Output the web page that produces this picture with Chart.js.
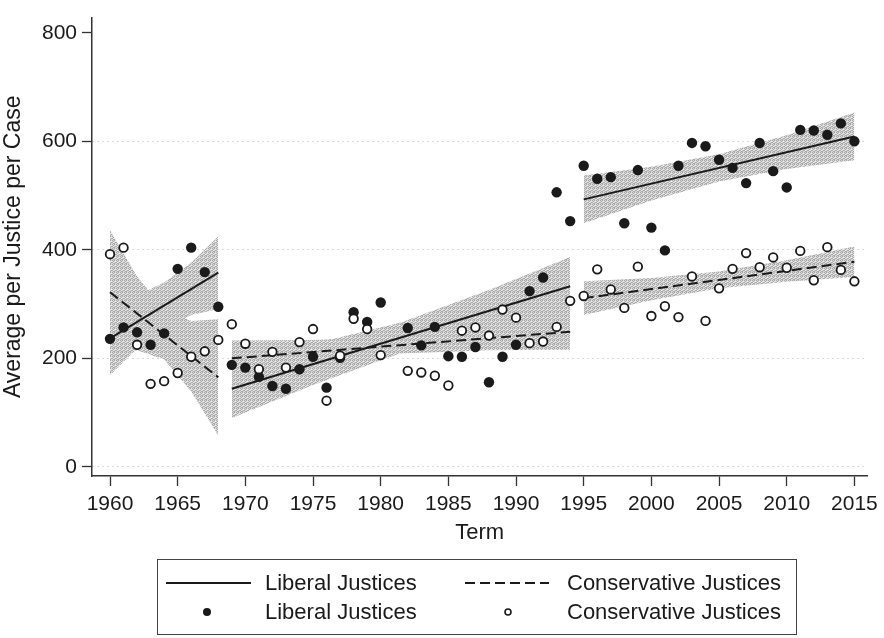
<!DOCTYPE html>
<html>
<head>
<meta charset="utf-8">
<script src="https://cdn.jsdelivr.net/npm/chart.js@4.4.0/dist/chart.umd.min.js"></script>
<style>
  html, body { margin: 0; padding: 0; background: #fff; }
  #wrap { position: relative; width: 884px; height: 638px; }
  #legend {
    position: absolute; left: 157px; top: 559px; width: 640px; height: 76px;
    box-sizing: border-box; border: 1.5px solid #444;
    font-family: "Liberation Sans", Arial, Helvetica, sans-serif; font-size: 22px; color: #1a1a1a;
  }
  #legend span { position: absolute; line-height: 26px; white-space: nowrap; }
  #legend svg { position: absolute; left: 0; top: 0; }
</style>
</head>
<body>
<div id="wrap">
  <canvas id="chart" width="884" height="638"></canvas>
  <div id="legend">
    <svg width="638" height="74">
      <line x1="8" y1="23" x2="93" y2="23" stroke="#1a1a1a" stroke-width="1.8"/>
      <line x1="307" y1="23" x2="391" y2="23" stroke="#1a1a1a" stroke-width="1.8" stroke-dasharray="10 5"/>
      <circle cx="49" cy="52" r="4" fill="#1a1a1a"/>
      <circle cx="350" cy="52" r="3" fill="#fff" stroke="#1a1a1a" stroke-width="1.6"/>
    </svg>
    <span id="lab1" style="left:107px; top:10px"></span>
    <span id="lab2" style="left:409px; top:10px"></span>
    <span id="lab3" style="left:107px; top:39px"></span>
    <span id="lab4" style="left:409px; top:39px"></span>
  </div>
</div>
<script>
// Terms and per-term averages (1981 has no points)
const years = [1960, 1961, 1962, 1963, 1964, 1965, 1966, 1967, 1968, 1969,
  1970, 1971, 1972, 1973, 1974, 1975, 1976, 1977, 1978, 1979,
  1980, 1981, 1982, 1983, 1984, 1985, 1986, 1987, 1988, 1989,
  1990, 1991, 1992, 1993, 1994, 1995, 1996, 1997, 1998, 1999,
  2000, 2001, 2002, 2003, 2004, 2005, 2006, 2007, 2008, 2009,
  2010, 2011, 2012, 2013, 2014, 2015];

const liberalAvg = [236, 257, 248, 225, 246, 365, 404, 359, 295, 188,
  183, 166, 149, 144, 180, 203, 146, 201, 285, 267,
  303, null, 256, 224, 258, 204, 203, 221, 156, 203,
  225, 324, 349, 506, 453, 555, 531, 534, 449, 547,
  441, 399, 555, 597, 591, 566, 551, 523, 597, 545,
  515, 621, 620, 612, 633, 600];

const conservativeAvg = [392, 404, 225, 153, 158, 173, 203, 213, 234, 263,
  227, 180, 212, 183, 230, 254, 122, 205, 273, 254,
  206, null, 177, 174, 168, 150, 251, 257, 242, 290,
  275, 228, 231, 258, 306, 315, 364, 327, 293, 369,
  278, 296, 276, 351, 269, 329, 365, 394, 368, 386,
  367, 398, 344, 405, 363, 342];

// Fitted lines, one per period (start, end)
const fitYears = [[1960, 1968], [1969, 1994], [1995, 2015]];
const liberalFit = [[237, 358], [144, 333], [493, 609]];
const conservativeFit = [[322, 165], [200, 249], [311, 378]];

// Confidence bands, read at a few terms per period
const bandYears = [[1960, 1962, 1964, 1966, 1968], [1969, 1975, 1981.5, 1988, 1994], [1995, 2000, 2005, 2010, 2015]];
const liberalUpper = [[305, 316, 340, 376, 425], [198, 227, 266, 326, 387], [537, 553, 576, 611, 653]];
const liberalLower = [[169, 218, 255, 280, 291], [90, 151, 210, 250, 279], [449, 491, 526, 549, 565]];
const conservativeUpper = [[436, 351, 290, 269, 272], [233, 234, 240, 259, 282], [342, 348, 360, 381, 406]];
const conservativeLower = [[208, 215, 198, 139, 58], [167, 190, 209, 215, 216], [280, 307, 329, 341, 350]];

const xTicks = [1960, 1965, 1970, 1975, 1980, 1985, 1990, 1995, 2000, 2005, 2010, 2015];
const yTicks = [0, 200, 400, 600, 800];
const seriesNames = ['Liberal Justices', 'Conservative Justices'];

const family = '"Liberation Sans", Arial, Helvetica, sans-serif';
Chart.defaults.font.family = family;
Chart.defaults.color = '#1a1a1a';

const ink = '#1a1a1a';

// stippled grey like the printed bands (opaque so overlaps look the same)
function makeStipple() {
    const c = document.createElement('canvas');
    c.width = 4; c.height = 4;
    const g = c.getContext('2d');
    g.fillStyle = '#d8d8d8'; g.fillRect(0, 0, 4, 4);
    g.fillStyle = '#a8a8a8';
    [[0, 0], [2, 0], [1, 1], [3, 2], [0, 2], [2, 3], [1, 3]].forEach(([x, y]) => g.fillRect(x, y, 1, 1));
    g.fillStyle = '#f0f0f0';
    [[3, 1], [1, 2]].forEach(([x, y]) => g.fillRect(x, y, 1, 1));
    return g.createPattern(c, 'repeat');
}
const bandColor = makeStipple();

function pairs(xs, ys) {
    return xs.map((x, i) => ({ x: x, y: ys[i] }));
}

const datasets = [];

// bands: upper fills down to the lower one right after it
for (let s = 0; s < bandYears.length; s++) {
    [[liberalUpper, liberalLower], [conservativeUpper, conservativeLower]].forEach(([up, lo]) => {
        datasets.push({ type: 'line', data: pairs(bandYears[s], up[s]), fill: '+1',
            backgroundColor: bandColor, borderWidth: 0, pointRadius: 0, order: 10 });
        datasets.push({ type: 'line', data: pairs(bandYears[s], lo[s]), fill: false,
            borderWidth: 0, pointRadius: 0, order: 10 });
    });
}

// fit lines
for (let s = 0; s < fitYears.length; s++) {
    datasets.push({ type: 'line', data: pairs(fitYears[s], liberalFit[s]), borderColor: ink,
        borderWidth: 2, pointRadius: 0, fill: false, order: 5 });
    datasets.push({ type: 'line', data: pairs(fitYears[s], conservativeFit[s]), borderColor: ink,
        borderWidth: 2, borderDash: [10, 5], pointRadius: 0, fill: false, order: 5 });
}

// scatter points
datasets.push({
    type: 'scatter', label: seriesNames[0],
    data: pairs(years, liberalAvg).filter(p => p.y !== null),
    pointRadius: 5.2, backgroundColor: ink, borderColor: ink, borderWidth: 0, order: 2
});
datasets.push({
    type: 'scatter', label: seriesNames[1],
    data: pairs(years, conservativeAvg).filter(p => p.y !== null),
    pointRadius: 4.3, backgroundColor: '#fff', borderColor: ink, borderWidth: 1.8, order: 1
});

const ctx = document.getElementById('chart').getContext('2d');
new Chart(ctx, {
    type: 'scatter',
    data: { datasets: datasets },
    options: {
        responsive: false,
        animation: false,
        devicePixelRatio: 1,
        layout: { padding: { top: 7, right: 15, left: 0, bottom: 78 } },
        plugins: {
            legend: { display: false },
            tooltip: { enabled: false },
            filler: { drawTime: 'beforeDatasetsDraw' }
        },
        scales: {
            x: {
                type: 'linear',
                min: 1958.67,
                max: 2015.96,
                afterFit: s => { s.height = 84; },
                afterBuildTicks: s => { s.ticks = xTicks.map(v => ({ value: v })); },
                ticks: { font: { size: 21 }, color: ink, padding: 6, maxRotation: 0, callback: v => String(v) },
                grid: { drawOnChartArea: false, tickColor: '#333', tickLength: 10, tickWidth: 1.3 },
                border: { color: '#333', width: 1.5 },
                title: { display: true, text: 'Term', font: { size: 22 }, color: ink, padding: { bottom: 14 } }
            },
            y: {
                type: 'linear',
                min: -16.8,
                max: 828,
                afterFit: s => { s.width = 92; },
                afterBuildTicks: s => { s.ticks = yTicks.map(v => ({ value: v })); },
                ticks: { font: { size: 21 }, color: ink, padding: 5, callback: v => String(v) },
                grid: {
                    color: c => (c.tick && c.tick.value === 800) ? 'rgba(0,0,0,0)' : '#b5b5b5',
                    lineWidth: 1, tickColor: '#333', tickLength: 10, tickWidth: 1.3
                },
                border: { color: '#333', width: 1.5, dash: [1, 4] },
                title: { display: true, text: 'Average per Justice per Case', font: { size: 23 }, color: ink, padding: { top: 0 } }
            }
        }
    }
});

// legend text
document.getElementById('lab1').textContent = seriesNames[0];
document.getElementById('lab2').textContent = seriesNames[1];
document.getElementById('lab3').textContent = seriesNames[0];
document.getElementById('lab4').textContent = seriesNames[1];
</script>
</body>
</html>
